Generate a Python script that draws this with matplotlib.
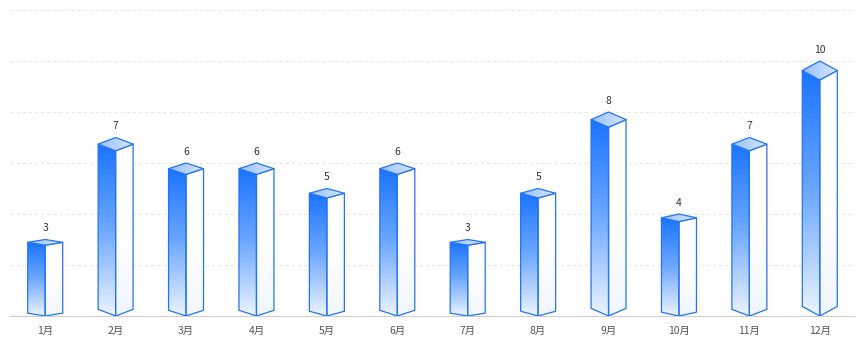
import numpy as np
import matplotlib
matplotlib.use('Agg')
import matplotlib.pyplot as plt
from matplotlib.patches import Polygon
from matplotlib.colors import LinearSegmentedColormap

plt.rcParams['font.family'] = ['Noto Sans CJK SC', 'DejaVu Sans']

months = ['1月', '2月', '3月', '4月', '5月', '6月', '7月', '8月', '9月', '10月', '11月', '12月']
values = [3, 7, 6, 6, 5, 6, 3, 5, 8, 4, 7, 10]

W, H = 864, 345
fig = plt.figure(figsize=(W / 100, H / 100), dpi=100)
ax_l, ax_b, ax_w, ax_h = 10, 29, 845, 306
ax = fig.add_axes([ax_l / W, ax_b / H, ax_w / W, ax_h / H])
n = len(values)
ax.set_xlim(-0.5, n - 0.5)
ax.set_ylim(0, 12)

px_x = ax_w / n          # pixels per category
px_y = ax_h / 12         # pixels per unit
hw = 17.5 / px_x         # half width in data units

edge = '#2474f2'
side_cmap = LinearSegmentedColormap.from_list('side', ['#edf4ff', '#6aa6ff', '#1470ff'])
right_cmap = LinearSegmentedColormap.from_list('right', ['#f1f6ff', '#ffffff', '#ffffff'])
top_cmap = LinearSegmentedColormap.from_list('top', ['#95c0ff', '#d8e7ff'])
grad_v = np.linspace(0, 1, 256).reshape(-1, 1)
grad_h = np.linspace(0, 1, 256).reshape(1, -1)

for i, v in enumerate(values):
    d = 0.95 * v / px_y
    left = [(i - hw, d), (i, 0), (i, v - 2 * d), (i - hw, v - d)]
    right = [(i, 0), (i + hw, d), (i + hw, v - d), (i, v - 2 * d)]
    top = [(i, v - 2 * d), (i - hw, v - d), (i, v), (i + hw, v - d)]

    # left face with vertical gradient
    lp = Polygon(left, closed=True, facecolor='none', edgecolor='none', zorder=3)
    ax.add_patch(lp)
    im = ax.imshow(grad_v, cmap=side_cmap, origin='lower', aspect='auto',
                   extent=[i - hw, i, 0, v], zorder=3, interpolation='bilinear')
    im.set_clip_path(lp)
    ax.add_patch(Polygon(left, closed=True, facecolor='none', edgecolor=edge,
                         linewidth=0.9, joinstyle='round', zorder=4))
    # right face (near white)
    rp = Polygon(right, closed=True, facecolor='none', edgecolor='none', zorder=3)
    ax.add_patch(rp)
    im3 = ax.imshow(grad_v, cmap=right_cmap, origin='lower', aspect='auto',
                    extent=[i, i + hw, 0, v], zorder=3, interpolation='bilinear')
    im3.set_clip_path(rp)
    ax.add_patch(Polygon(right, closed=True, facecolor='none', edgecolor=edge,
                         linewidth=0.9, joinstyle='round', zorder=4))
    # top face with horizontal gradient
    tp = Polygon(top, closed=True, facecolor='none', edgecolor='none', zorder=5)
    ax.add_patch(tp)
    im2 = ax.imshow(grad_h, cmap=top_cmap, origin='lower', aspect='auto',
                    extent=[i - hw, i + hw, v - 2 * d, v], zorder=5, interpolation='bilinear')
    im2.set_clip_path(tp)
    ax.add_patch(Polygon(top, closed=True, facecolor='none', edgecolor=edge,
                         linewidth=0.9, joinstyle='round', zorder=6))

    ax.annotate(str(v), (i, v), xytext=(0, 8), textcoords='offset points',
                ha='center', va='center', fontsize=7.5, color='#333333', zorder=7)

ax.set_xticks(range(n))
ax.set_xticklabels(months, fontsize=7.5, color='#555555')
ax.set_yticks(range(0, 13, 2))
ax.set_yticklabels([])
ax.tick_params(axis='both', length=0)
ax.tick_params(axis='x', pad=7)
ax.yaxis.grid(True, linestyle=(0, (3, 2.5)), color='#e6e6e6', linewidth=0.8)
ax.set_axisbelow(True)
for s in ['top', 'right', 'left']:
    ax.spines[s].set_visible(False)
ax.spines['bottom'].set_color('#d0d0d0')
ax.spines['bottom'].set_linewidth(0.8)

fig.savefig('out.png', dpi=100)
